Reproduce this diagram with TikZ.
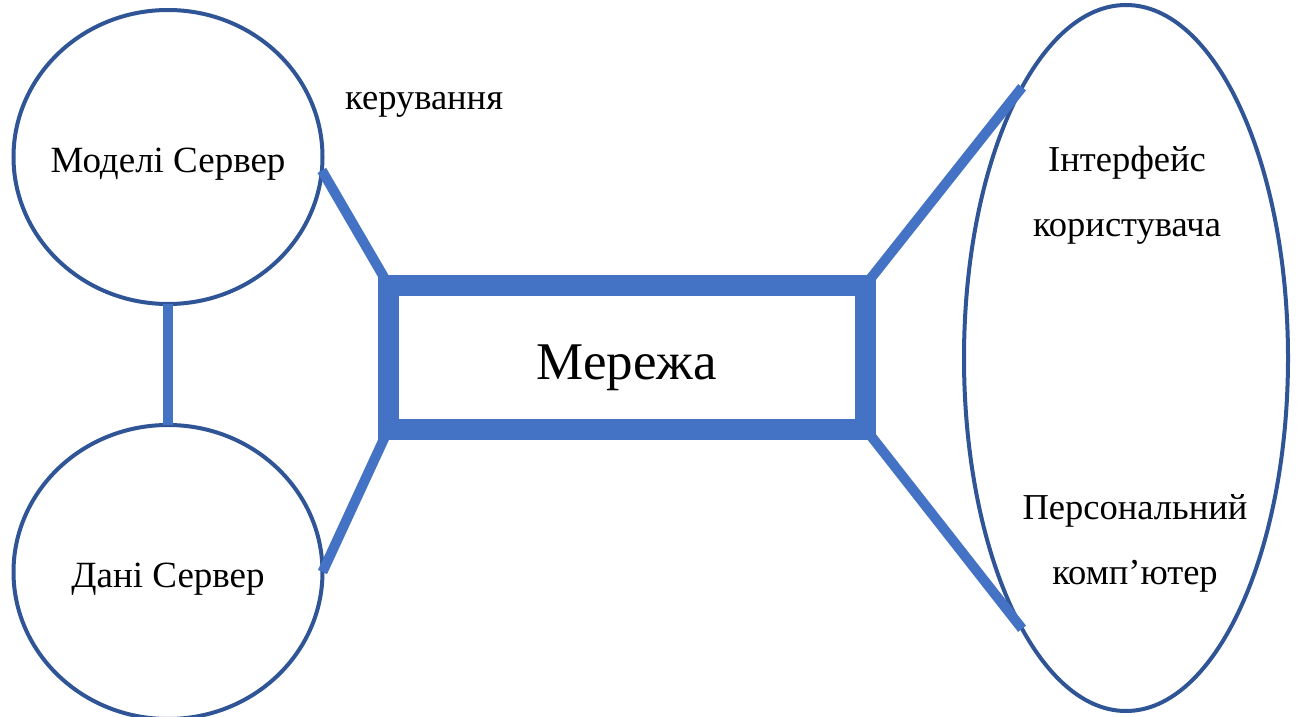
\documentclass[tikz,border=0pt]{standalone}
\usepackage{fontspec}
\setmainfont{Liberation Serif}
\usetikzlibrary{shapes.geometric}
\definecolor{edgeblue}{HTML}{2F5597}
\definecolor{fillblue}{HTML}{4472C4}
\newcommand{\ctrtext}[2]{\makebox[0pt]{\smash{\raisebox{-#1}{#2}}}}
\tikzset{
  server/.style={ellipse, draw=edgeblue, line width=4pt, inner sep=0pt, outer sep=0pt,
    minimum width=309pt, minimum height=294pt, font=\fontsize{37}{44}\selectfont},
  netbox/.style={rectangle, draw=fillblue, line width=21pt, inner sep=0pt, outer sep=0pt,
    minimum width=477pt, minimum height=144pt, font=\fontsize{53}{60}\selectfont},
  link/.style={draw=fillblue, line width=10pt},
  lbl/.style={font=\fontsize{36.5}{65}\selectfont, align=center, inner sep=0pt}
}
\begin{document}
\begin{tikzpicture}[x=1pt,y=-1pt]
\useasboundingbox (0,0) rectangle (1299,717);
\fill[white] (0,0) rectangle (1299,717);
\node[server] (model) at (168,157) {\ctrtext{15pt}{Моделі Сервер}};
\node[server] (data) at (168,572) {\ctrtext{15pt}{Дані Сервер}};
\node[netbox] (net) at (627,357) {\ctrtext{22pt}{Мережа}};
\node[ellipse, draw=edgeblue, line width=4pt, inner sep=0pt, outer sep=0pt,
  minimum width=324pt, minimum height=706pt] (user) at (1126,358) {};
\node[lbl] (ui) at (1127,195) {Інтерфейс\\користувача};
\node[lbl] (pc) at (1135,543) {Персональний\\комп’ютер};
\node[lbl, anchor=west] (ctrl) at (345,105) {керування};
\draw[link] (model.south) -- (data.north);
\draw[link] (model.-5) -- (net.north west);
\draw[link] (data.east) -- (net.south west);
\draw[link] (net.north east) -- (user.111);
\draw[link] (net.south east) -- (user.249);
\end{tikzpicture}
\end{document}
